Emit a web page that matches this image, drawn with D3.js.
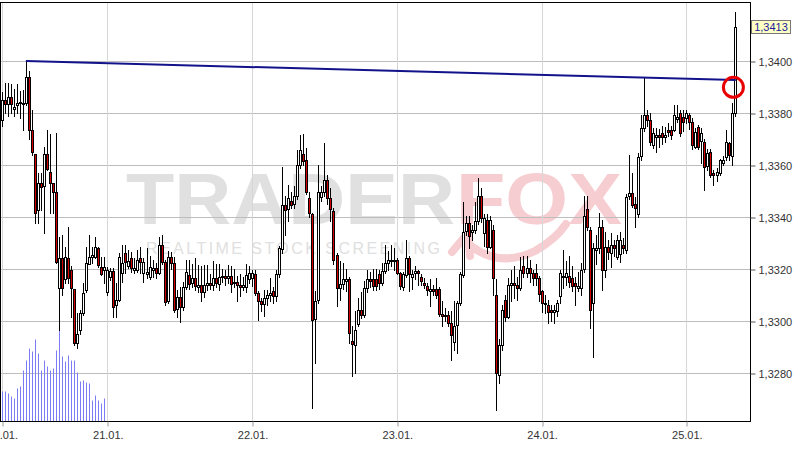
<!DOCTYPE html>
<html><head><meta charset="utf-8">
<script src="https://cdn.jsdelivr.net/npm/d3@7"></script>
<style>html,body{margin:0;padding:0;background:#fff;}svg{display:block;}</style>
</head><body>
<svg id="chart" width="800" height="451"></svg>
<script>
// ---- DATA (30-minute candles) ----
const opens = [
1.33773,1.3385,1.33835,1.3386,1.33814,1.33831,1.3384,1.3384,1.33837,1.33937,
1.33735,1.33642,1.33427,1.3353,1.33517,1.33642,1.33572,1.3353,1.33497,1.33126,
1.33241,1.33164,1.33241,1.33196,1.33122,1.32914,1.32965,1.3303,1.33119,1.33222,
1.33247,1.33247,1.33279,1.33209,1.33196,1.33113,1.33171,1.33194,1.33062,1.33081,
1.33183,1.3326,1.3321,1.33241,1.33195,1.33196,1.33241,1.33183,1.33183,1.33171,
1.33195,1.33203,1.33183,1.33292,1.33228,1.33075,1.33245,1.33222,1.33049,1.33094,
1.33055,1.33132,1.33178,1.33145,1.33164,1.33132,1.33138,1.33113,1.33138,1.33145,
1.33138,1.33164,1.33145,1.33171,1.33174,1.33168,1.33174,1.33145,1.3315,1.33138,
1.33132,1.33132,1.3316,1.33165,1.33181,1.33108,1.33076,1.33065,1.33089,1.33101,
1.33114,1.33095,1.33181,1.33278,1.33447,1.33428,1.33463,1.33447,1.33479,1.336,
1.33641,1.3362,1.33472,1.33411,1.33005,1.33082,1.33479,1.33498,1.33543,1.33472,
1.33424,1.33255,1.33127,1.33142,1.33157,1.33163,1.32922,1.3291,1.32991,1.33044,
1.33025,1.33127,1.3316,1.3316,1.33163,1.33182,1.33146,1.33191,1.33223,1.33233,
1.33229,1.33233,1.33184,1.33133,1.33175,1.33242,1.33171,1.33186,1.33193,1.33171,
1.33146,1.33133,1.33118,1.33124,1.33124,1.33124,1.33028,1.33022,1.33024,1.32992,
1.32922,1.32986,1.33069,1.3318,1.33344,1.33376,1.33344,1.3335,1.33383,1.33479,
1.33338,1.33389,1.33287,1.3335,1.33101,1.32792,1.32908,1.33082,1.33018,1.3314,
1.33146,1.3314,1.33127,1.3321,1.33184,1.33203,1.33184,1.33184,1.33165,1.33114,
1.33069,1.33063,1.33043,1.33037,1.33037,1.33094,1.33174,1.3317,1.33174,1.33165,
1.33146,1.33127,1.33127,1.33197,1.33431,1.3335,1.33069,1.33272,1.33281,1.33362,
1.33196,1.33286,1.3326,1.33292,1.33247,1.3326,1.33292,1.33273,1.33478,1.33494,
1.3345,1.33414,1.33632,1.33741,1.33792,1.33773,1.33677,1.33709,1.33715,1.33722,
1.33707,1.33735,1.33735,1.33735,1.33779,1.33799,1.33786,1.33779,1.33792,1.33767,
1.3367,1.33747,1.3369,1.3369,1.33594,1.33651,1.33568,1.33562,1.33568,1.33606,
1.33632,1.33683,1.33632,1.33799];
const highs = [
1.3388,1.33914,1.33914,1.3391,1.33891,1.3391,1.33886,1.3389,1.33997,1.33963,
1.3381,1.33642,1.33568,1.33568,1.3367,1.33735,1.3372,1.3353,1.33722,1.33324,
1.3333,1.33286,1.33363,1.3321,1.33122,1.3303,1.33042,1.33145,1.33286,1.3333,
1.33286,1.33324,1.33286,1.33247,1.33247,1.33209,1.33203,1.33203,1.33145,1.3326,
1.33292,1.33292,1.33273,1.33267,1.33241,1.33273,1.33286,1.33241,1.3328,1.3325,
1.33235,1.33222,1.33324,1.3333,1.33235,1.3327,1.33267,1.33245,1.3312,1.3313,
1.33151,1.33235,1.33235,1.3322,1.33241,1.33215,1.3321,1.33215,1.33215,1.3318,
1.3323,1.3322,1.3322,1.332,1.33195,1.33215,1.3321,1.332,1.33175,1.3318,
1.33171,1.3322,1.3321,1.33197,1.33197,1.33115,1.3309,1.3312,1.3312,1.33165,
1.3313,1.33197,1.3329,1.33594,1.33479,1.33524,1.33498,1.3352,1.33658,1.33716,
1.33718,1.33664,1.33498,1.33415,1.33114,1.336,1.3352,1.33684,1.33562,1.3351,
1.33434,1.33261,1.33229,1.33223,1.332,1.33169,1.32979,1.33037,1.3309,1.3311,
1.33152,1.33197,1.3319,1.33201,1.332,1.33195,1.33223,1.33293,1.3327,1.33293,
1.3328,1.33242,1.3319,1.3319,1.33312,1.3325,1.33195,1.3321,1.33197,1.3318,
1.33165,1.33146,1.3316,1.3314,1.33165,1.3313,1.33075,1.3305,1.3304,1.3304,
1.33075,1.33075,1.3319,1.33459,1.33402,1.33402,1.3337,1.33459,1.33549,1.3351,
1.3341,1.3341,1.33402,1.3337,1.3316,1.3293,1.3306,1.331,1.33165,1.33197,
1.3321,1.3317,1.33245,1.33249,1.33249,1.33235,1.33197,1.3322,1.33175,1.3312,
1.331,1.3308,1.3306,1.3306,1.3308,1.33197,1.33274,1.3323,1.3325,1.3321,
1.3317,1.3319,1.33223,1.3348,1.33479,1.3336,1.333,1.3333,1.33414,1.33388,
1.33343,1.3331,1.33337,1.3331,1.3333,1.33343,1.3332,1.3349,1.33638,1.33568,
1.33478,1.33645,1.33792,1.3394,1.33812,1.33799,1.33741,1.33741,1.3374,1.3375,
1.33745,1.3376,1.3375,1.33831,1.33831,1.33812,1.3381,1.3381,1.338,1.33779,
1.33741,1.33755,1.33741,1.337,1.3366,1.3366,1.3358,1.3359,1.33625,1.33635,
1.33735,1.3369,1.33838,1.3419];
const lows = [
1.3375,1.338,1.3379,1.338,1.3379,1.338,1.3378,1.33735,1.3383,1.337,
1.3364,1.33376,1.33376,1.33427,1.33337,1.3358,1.33414,1.33414,1.33222,1.32965,
1.331,1.33145,1.33145,1.33017,1.32908,1.32895,1.3295,1.33024,1.33113,1.33222,
1.33222,1.33241,1.33209,1.33177,1.33145,1.331,1.33158,1.33017,1.33017,1.33075,
1.3315,1.33183,1.33202,1.3319,1.33183,1.3319,1.33183,1.3315,1.33164,1.3316,
1.3317,1.33164,1.3318,1.3322,1.3306,1.3307,1.332,1.33035,1.33017,1.32995,
1.33043,1.33125,1.33125,1.3313,1.3312,1.33113,1.33075,1.33094,1.3312,1.33125,
1.3312,1.3313,1.3312,1.3315,1.3314,1.33145,1.3311,1.3313,1.33075,1.33098,
1.3312,1.3311,1.33145,1.33133,1.33101,1.33005,1.33037,1.33018,1.3306,1.33075,
1.3307,1.33076,1.3317,1.33262,1.33332,1.33383,1.33434,1.33434,1.3347,1.3359,
1.336,1.3349,1.334,1.32666,1.32839,1.3307,1.3346,1.3348,1.3345,1.33383,
1.3322,1.33056,1.3308,1.33125,1.33115,1.32916,1.32788,1.328,1.3298,1.3301,
1.33015,1.3311,1.3313,1.3312,1.3312,1.33125,1.3314,1.33185,1.33197,1.3321,
1.33197,1.3318,1.33125,1.3312,1.3317,1.33115,1.33125,1.3316,1.3314,1.3314,
1.33127,1.33101,1.33056,1.331,1.33088,1.3302,1.32979,1.33,1.3298,1.32851,
1.3289,1.32877,1.3306,1.3317,1.3333,1.3328,1.3331,1.3334,1.33375,1.3338,
1.3329,1.3326,1.3328,1.33101,1.32659,1.3276,1.3289,1.33,1.3301,1.33075,
1.3309,1.3308,1.3312,1.3317,1.3317,1.3315,1.3314,1.3314,1.33075,1.33035,
1.3303,1.32992,1.33,1.32992,1.3302,1.3307,1.33127,1.3314,1.3313,1.33115,
1.3306,1.33114,1.33101,1.3319,1.3335,1.32973,1.32862,1.3322,1.3326,1.3312,
1.3317,1.3324,1.33209,1.3325,1.3324,1.33228,1.3326,1.3326,1.3347,1.3344,
1.33363,1.334,1.3362,1.3373,1.3375,1.33677,1.33664,1.33651,1.3367,1.3368,
1.3369,1.3371,1.337,1.3373,1.33767,1.3371,1.3373,1.3376,1.3374,1.3366,
1.33664,1.3366,1.33607,1.33504,1.3358,1.33555,1.33523,1.3354,1.3356,1.336,
1.3362,1.3362,1.336,1.3379];
const closes = [
1.3385,1.33835,1.3386,1.33835,1.33822,1.3384,1.33843,1.33837,1.33937,1.33735,
1.3365,1.33414,1.3353,1.33514,1.33642,1.33583,1.3353,1.33497,1.33226,1.33241,
1.33126,1.33247,1.33164,1.33126,1.32914,1.3295,1.3303,1.33106,1.33222,1.33247,
1.33253,1.33286,1.33215,1.33183,1.33209,1.33196,1.33194,1.33055,1.33081,1.33247,
1.33222,1.33225,1.33231,1.33203,1.33203,1.33235,1.33226,1.33226,1.33189,1.33209,
1.33203,1.33183,1.33292,1.33228,1.33075,1.33245,1.33222,1.33043,1.33094,1.33055,
1.33132,1.3319,1.33145,1.33164,1.33132,1.33138,1.33113,1.33138,1.33145,1.33138,
1.33164,1.33145,1.33171,1.33174,1.33168,1.33174,1.33145,1.3315,1.33138,1.33132,
1.33138,1.33177,1.33183,1.33184,1.33108,1.33076,1.33065,1.33089,1.33101,1.33108,
1.33095,1.33181,1.3328,1.33447,1.33428,1.33472,1.33447,1.33479,1.336,1.33658,
1.33616,1.33498,1.33415,1.33005,1.33076,1.33498,1.33498,1.33543,1.33472,1.33428,
1.33236,1.33127,1.33142,1.33163,1.33163,1.32954,1.32912,1.32967,1.33044,1.33025,
1.33127,1.3316,1.33154,1.33133,1.33138,1.33146,1.33191,1.33223,1.33233,1.33229,
1.33233,1.33184,1.33133,1.33182,1.33242,1.33182,1.33182,1.33193,1.33185,1.33156,
1.3314,1.33118,1.33124,1.33118,1.33101,1.33028,1.33022,1.33018,1.32995,1.32947,
1.32982,1.33069,1.3318,1.33344,1.33376,1.33325,1.3335,1.33383,1.33479,1.33395,
1.33395,1.33287,1.33389,1.33165,1.328,1.32908,1.33043,1.33018,1.3314,1.33146,
1.3314,1.33127,1.33197,1.33184,1.33203,1.33184,1.33165,1.33165,1.33105,1.33069,
1.33065,1.33037,1.33037,1.33043,1.33069,1.33184,1.3317,1.33184,1.33152,1.33136,
1.33133,1.33133,1.33197,1.33402,1.3336,1.33042,1.3328,1.33281,1.33362,1.33196,
1.33286,1.33267,1.33292,1.33279,1.33312,1.33312,1.33279,1.33478,1.33491,1.33446,
1.33433,1.33632,1.33741,1.33792,1.33773,1.3369,1.33722,1.33715,1.33709,1.33707,
1.33715,1.33728,1.33715,1.33792,1.33786,1.33722,1.33767,1.33799,1.33767,1.33677,
1.33728,1.3367,1.33722,1.33594,1.33645,1.33562,1.33562,1.33574,1.33619,1.33619,
1.3369,1.33638,1.33799,1.3413];
const volumes = [300,300,280,250,230,330,350,510,610,730,700,820,680,510,610,550,510,530,710,910,650,600,660,610,610,490,400,410,390,380,210,260,210,180,230];
const dateTickIndex = [0,35,83,131,179,227];
const dateTickLabels = ["20.01.","21.01.","22.01.","23.01.","24.01.","25.01."];
const priceTicks = [1.328,1.330,1.332,1.334,1.336,1.338,1.340];
const trendLine = [[8,1.3400],[243.4,1.33927]];
const markerPoint = [242.6,1.33899];
const lastPrice = 1.3413;

// ---- CHART ----
const svg = d3.select("#chart");
const FONT = "'Liberation Sans', Arial, Helvetica, sans-serif";
const L = 0, R = 750, T = 3, B = 421;
const x = d3.scaleLinear().domain([0, 243]).range([1.75, 734.6]);
const y = d3.scaleLinear().domain([1.326, 1.342]).range([425, 9]);
const vy = d3.scaleLinear().domain([0, 1000]).range([421.5, 321.5]);

svg.append("rect").attr("width",800).attr("height",451).attr("fill","#fff");
svg.append("defs").append("clipPath").attr("id","clip")
  .append("rect").attr("x",L+1).attr("y",T+1).attr("width",R-L-1).attr("height",B-T-1);

// watermark
const wm = svg.append("g");
wm.append("text").attr("x",126).attr("y",224).attr("textLength",329).attr("lengthAdjust","spacingAndGlyphs")
  .attr("font-family",FONT).attr("font-weight","bold").attr("font-size",72).attr("fill","#e0e0e0").text("TRADER");
wm.append("path").attr("d","M452,252 L468,233 L470,256 M471,246 Q500,268 535,251 Q556,239 566,224")
  .attr("fill","none").attr("stroke","#f6cdd0").attr("stroke-width",8).attr("stroke-linecap","round");
wm.append("text").attr("x",456).attr("y",224).attr("textLength",166).attr("lengthAdjust","spacingAndGlyphs")
  .attr("font-family",FONT).attr("font-weight","bold").attr("font-size",72).attr("fill","#f6cdd0").text("FOX");
wm.append("text").attr("x",146).attr("y",254).attr("textLength",294).attr("lengthAdjust","spacing")
  .attr("font-family",FONT).attr("font-size",16).attr("fill","#e0e0e0").text("REALTIME STOCK SCREENING");

// grid
const grid = svg.append("g");
grid.selectAll("line.h").data(priceTicks).join("line")
  .attr("x1",L).attr("x2",R).attr("y1",d=>Math.round(y(d))+0.5).attr("y2",d=>Math.round(y(d))+0.5)
  .attr("stroke","#bdbdbd").attr("stroke-width",1);
grid.selectAll("line.v").data(dateTickIndex).join("line")
  .attr("x1",d=>Math.round(x(d))+0.5).attr("x2",d=>Math.round(x(d))+0.5).attr("y1",T).attr("y2",B)
  .attr("stroke","#d6d6d6").attr("stroke-width",1);

const plot = svg.append("g").attr("clip-path","url(#clip)");

// volume
plot.selectAll("line.vol").data(volumes).join("line")
  .attr("x1",(d,i)=>Math.round(x(i))+0.5).attr("x2",(d,i)=>Math.round(x(i))+0.5)
  .attr("y1",vy(0)).attr("y2",d=>vy(d)).attr("stroke","#7c7cf6").attr("stroke-width",1);

// candles
const idx = d3.range(closes.length);
const cg = plot.append("g");
cg.selectAll("line.wick").data(idx).join("line")
  .attr("x1",i=>Math.round(x(i))+0.5).attr("x2",i=>Math.round(x(i))+0.5)
  .attr("y1",i=>Math.round(y(highs[i]))).attr("y2",i=>Math.round(y(lows[i]))+1)
  .attr("stroke","#000").attr("stroke-width",1);
cg.selectAll("rect.body").data(idx).join("rect")
  .attr("x",i=>Math.round(x(i))-0.5).attr("width",2)
  .attr("y",i=>Math.round(y(Math.max(opens[i],closes[i])))+0.5)
  .attr("height",i=>Math.max(1,Math.round(Math.abs(y(opens[i])-y(closes[i])))))
  .attr("fill",i=>closes[i]>=opens[i]?"#ffffff":"#d40000")
  .attr("stroke","#000").attr("stroke-width",1);

// trend line and marker
plot.append("line")
  .attr("x1",x(trendLine[0][0])).attr("y1",y(trendLine[0][1]))
  .attr("x2",x(trendLine[1][0])).attr("y2",y(trendLine[1][1]))
  .attr("stroke","#12128a").attr("stroke-width",2);
svg.append("circle").attr("cx",x(markerPoint[0])).attr("cy",y(markerPoint[1])).attr("r",10)
  .attr("fill","none").attr("stroke","#e80000").attr("stroke-width",3);

// frame
svg.append("rect").attr("x",L+0.5).attr("y",T-0.5).attr("width",R-L).attr("height",B-T+1)
  .attr("fill","none").attr("stroke","#000").attr("stroke-width",1);

// right axis
const fmt = d=>d3.format(".4f")(d).replace(".",",");
const ya = svg.append("g").attr("transform",`translate(${R+0.5},0.5)`)
  .call(d3.axisRight(y).tickValues(priceTicks).tickFormat(fmt).tickSize(5).tickPadding(3));
ya.select(".domain").remove();
ya.selectAll("line").attr("stroke","#555");
ya.selectAll("text").attr("font-family",FONT).attr("font-size",11).attr("fill","#333");

// bottom axis
const xa = svg.append("g").attr("transform",`translate(0.5,${B+0.5})`)
  .call(d3.axisBottom(x).tickValues(dateTickIndex).tickFormat((d,i)=>dateTickLabels[i]).tickSize(5).tickPadding(5));
xa.select(".domain").remove();
xa.selectAll("line").attr("stroke","#999").attr("transform",d=>`translate(${Math.round(x(d))-x(d)},0)`);
xa.selectAll("text").attr("font-family",FONT).attr("font-size",11).attr("fill","#333");

// last price tag
const ly = Math.round(y(lastPrice));
svg.append("rect").attr("x",751.5).attr("y",ly-6.5).attr("width",39).attr("height",13)
  .attr("fill","#ffffc4").attr("stroke","#777").attr("stroke-width",1);
svg.append("text").attr("x",771).attr("y",ly).attr("dy","0.35em").attr("text-anchor","middle")
  .attr("font-family",FONT).attr("font-size",11).attr("fill","#1c1ca0").text(fmt(lastPrice));
</script>
</body></html>
